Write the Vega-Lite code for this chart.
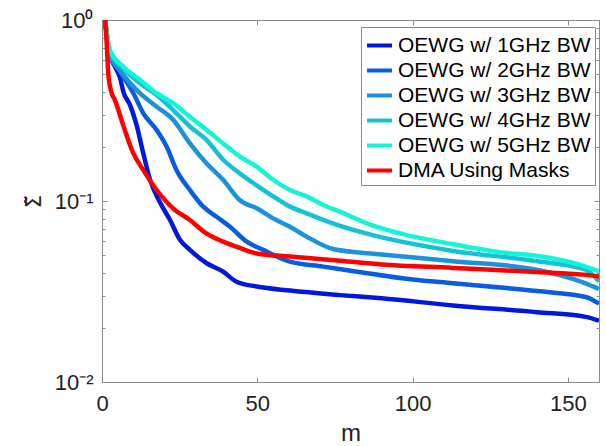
{
"$schema": "https://vega.github.io/schema/vega-lite/v6.json",
"width": 497, "height": 362,
"autosize": "none",
"padding": {"left": 102, "top": 20, "right": 7, "bottom": 64},
"background": "white",
"config": {"view": {"stroke": "#8a8a8a", "strokeWidth": 1}, "font": "Liberation Sans", "axis": {"grid": false}},
"data": {"values": [
{"s":"OEWG w/ 1GHz BW","m":1,"v":1.0},{"s":"OEWG w/ 1GHz BW","m":2.6,"v":0.63},{"s":"OEWG w/ 1GHz BW","m":4,"v":0.56},{"s":"OEWG w/ 1GHz BW","m":5.8,"v":0.48},{"s":"OEWG w/ 1GHz BW","m":6.9,"v":0.40},{"s":"OEWG w/ 1GHz BW","m":9,"v":0.34},{"s":"OEWG w/ 1GHz BW","m":11.2,"v":0.26},{"s":"OEWG w/ 1GHz BW","m":13.3,"v":0.183},{"s":"OEWG w/ 1GHz BW","m":15.4,"v":0.132},{"s":"OEWG w/ 1GHz BW","m":18.7,"v":0.098},{"s":"OEWG w/ 1GHz BW","m":21.9,"v":0.0785},{"s":"OEWG w/ 1GHz BW","m":25.1,"v":0.061},{"s":"OEWG w/ 1GHz BW","m":28.3,"v":0.0537},{"s":"OEWG w/ 1GHz BW","m":33.7,"v":0.0453},{"s":"OEWG w/ 1GHz BW","m":39,"v":0.0407},{"s":"OEWG w/ 1GHz BW","m":43.3,"v":0.0358},{"s":"OEWG w/ 1GHz BW","m":49.8,"v":0.0337},{"s":"OEWG w/ 1GHz BW","m":60.5,"v":0.032},{"s":"OEWG w/ 1GHz BW","m":76.6,"v":0.0302},{"s":"OEWG w/ 1GHz BW","m":90,"v":0.029},{"s":"OEWG w/ 1GHz BW","m":113,"v":0.0265},{"s":"OEWG w/ 1GHz BW","m":140,"v":0.0243},{"s":"OEWG w/ 1GHz BW","m":155.7,"v":0.0229},{"s":"OEWG w/ 1GHz BW","m":160,"v":0.0218},
{"s":"OEWG w/ 2GHz BW","m":1,"v":1.0},{"s":"OEWG w/ 2GHz BW","m":2.6,"v":0.63},{"s":"OEWG w/ 2GHz BW","m":4.5,"v":0.56},{"s":"OEWG w/ 2GHz BW","m":6.9,"v":0.486},{"s":"OEWG w/ 2GHz BW","m":10.1,"v":0.394},{"s":"OEWG w/ 2GHz BW","m":13.3,"v":0.305},{"s":"OEWG w/ 2GHz BW","m":17.6,"v":0.247},{"s":"OEWG w/ 2GHz BW","m":20.8,"v":0.2},{"s":"OEWG w/ 2GHz BW","m":24,"v":0.148},{"s":"OEWG w/ 2GHz BW","m":28.3,"v":0.115},{"s":"OEWG w/ 2GHz BW","m":32.6,"v":0.093},{"s":"OEWG w/ 2GHz BW","m":36.9,"v":0.0818},{"s":"OEWG w/ 2GHz BW","m":41.2,"v":0.0721},{"s":"OEWG w/ 2GHz BW","m":46.6,"v":0.0596},{"s":"OEWG w/ 2GHz BW","m":51.9,"v":0.0537},{"s":"OEWG w/ 2GHz BW","m":60.5,"v":0.0462},{"s":"OEWG w/ 2GHz BW","m":71.2,"v":0.0434},{"s":"OEWG w/ 2GHz BW","m":80,"v":0.0412},{"s":"OEWG w/ 2GHz BW","m":100,"v":0.0368},{"s":"OEWG w/ 2GHz BW","m":113,"v":0.0351},{"s":"OEWG w/ 2GHz BW","m":140,"v":0.0318},{"s":"OEWG w/ 2GHz BW","m":155.7,"v":0.0295},{"s":"OEWG w/ 2GHz BW","m":160,"v":0.0271},
{"s":"OEWG w/ 3GHz BW","m":1,"v":1.0},{"s":"OEWG w/ 3GHz BW","m":2.6,"v":0.64},{"s":"OEWG w/ 3GHz BW","m":6,"v":0.52},{"s":"OEWG w/ 3GHz BW","m":9,"v":0.45},{"s":"OEWG w/ 3GHz BW","m":12.2,"v":0.394},{"s":"OEWG w/ 3GHz BW","m":17.6,"v":0.332},{"s":"OEWG w/ 3GHz BW","m":22.9,"v":0.281},{"s":"OEWG w/ 3GHz BW","m":28.3,"v":0.208},{"s":"OEWG w/ 3GHz BW","m":33.7,"v":0.161},{"s":"OEWG w/ 3GHz BW","m":39,"v":0.131},{"s":"OEWG w/ 3GHz BW","m":44.4,"v":0.101},{"s":"OEWG w/ 3GHz BW","m":49.8,"v":0.0912},{"s":"OEWG w/ 3GHz BW","m":55.1,"v":0.0802},{"s":"OEWG w/ 3GHz BW","m":60.5,"v":0.0721},{"s":"OEWG w/ 3GHz BW","m":65.9,"v":0.0635},{"s":"OEWG w/ 3GHz BW","m":74.7,"v":0.0541},{"s":"OEWG w/ 3GHz BW","m":90,"v":0.0507},{"s":"OEWG w/ 3GHz BW","m":113,"v":0.0465},{"s":"OEWG w/ 3GHz BW","m":140,"v":0.0417},{"s":"OEWG w/ 3GHz BW","m":155.7,"v":0.0351},{"s":"OEWG w/ 3GHz BW","m":160,"v":0.0327},
{"s":"OEWG w/ 4GHz BW","m":1,"v":1.0},{"s":"OEWG w/ 4GHz BW","m":2.6,"v":0.66},{"s":"OEWG w/ 4GHz BW","m":6.9,"v":0.54},{"s":"OEWG w/ 4GHz BW","m":12.2,"v":0.447},{"s":"OEWG w/ 4GHz BW","m":17.6,"v":0.385},{"s":"OEWG w/ 4GHz BW","m":22.9,"v":0.318},{"s":"OEWG w/ 4GHz BW","m":28.3,"v":0.258},{"s":"OEWG w/ 4GHz BW","m":33.7,"v":0.217},{"s":"OEWG w/ 4GHz BW","m":39,"v":0.169},{"s":"OEWG w/ 4GHz BW","m":44.4,"v":0.142},{"s":"OEWG w/ 4GHz BW","m":49.8,"v":0.122},{"s":"OEWG w/ 4GHz BW","m":55.1,"v":0.106},{"s":"OEWG w/ 4GHz BW","m":60.5,"v":0.0931},{"s":"OEWG w/ 4GHz BW","m":65.9,"v":0.0855},{"s":"OEWG w/ 4GHz BW","m":74.7,"v":0.0748},{"s":"OEWG w/ 4GHz BW","m":85.6,"v":0.0658},{"s":"OEWG w/ 4GHz BW","m":113,"v":0.053},{"s":"OEWG w/ 4GHz BW","m":140.3,"v":0.0465},{"s":"OEWG w/ 4GHz BW","m":155.7,"v":0.0417},{"s":"OEWG w/ 4GHz BW","m":160,"v":0.0359},
{"s":"OEWG w/ 5GHz BW","m":1,"v":1.0},{"s":"OEWG w/ 5GHz BW","m":2.6,"v":0.68},{"s":"OEWG w/ 5GHz BW","m":6.9,"v":0.552},{"s":"OEWG w/ 5GHz BW","m":12.2,"v":0.467},{"s":"OEWG w/ 5GHz BW","m":17.6,"v":0.394},{"s":"OEWG w/ 5GHz BW","m":22.9,"v":0.347},{"s":"OEWG w/ 5GHz BW","m":28.3,"v":0.292},{"s":"OEWG w/ 5GHz BW","m":33.7,"v":0.247},{"s":"OEWG w/ 5GHz BW","m":39,"v":0.208},{"s":"OEWG w/ 5GHz BW","m":44.4,"v":0.176},{"s":"OEWG w/ 5GHz BW","m":49.8,"v":0.155},{"s":"OEWG w/ 5GHz BW","m":55.1,"v":0.131},{"s":"OEWG w/ 5GHz BW","m":60.5,"v":0.115},{"s":"OEWG w/ 5GHz BW","m":65.9,"v":0.106},{"s":"OEWG w/ 5GHz BW","m":71.2,"v":0.0951},{"s":"OEWG w/ 5GHz BW","m":76.6,"v":0.0873},{"s":"OEWG w/ 5GHz BW","m":85.6,"v":0.0748},{"s":"OEWG w/ 5GHz BW","m":96.6,"v":0.0658},{"s":"OEWG w/ 5GHz BW","m":113,"v":0.0577},{"s":"OEWG w/ 5GHz BW","m":129.4,"v":0.0518},{"s":"OEWG w/ 5GHz BW","m":140.3,"v":0.0497},{"s":"OEWG w/ 5GHz BW","m":153.5,"v":0.0446},{"s":"OEWG w/ 5GHz BW","m":160,"v":0.0408},
{"s":"DMA Using Masks","m":1,"v":1.0},{"s":"DMA Using Masks","m":1.5,"v":0.75},{"s":"DMA Using Masks","m":2,"v":0.51},{"s":"DMA Using Masks","m":3,"v":0.4},{"s":"DMA Using Masks","m":4.2,"v":0.36},{"s":"DMA Using Masks","m":6.9,"v":0.26},{"s":"DMA Using Masks","m":10,"v":0.185},{"s":"DMA Using Masks","m":13.3,"v":0.148},{"s":"DMA Using Masks","m":17.6,"v":0.115},{"s":"DMA Using Masks","m":22.9,"v":0.091},{"s":"DMA Using Masks","m":28.3,"v":0.0785},{"s":"DMA Using Masks","m":33.7,"v":0.066},{"s":"DMA Using Masks","m":39,"v":0.0596},{"s":"DMA Using Masks","m":44.4,"v":0.055},{"s":"DMA Using Masks","m":49.8,"v":0.0513},{"s":"DMA Using Masks","m":60.5,"v":0.0493},{"s":"DMA Using Masks","m":76.6,"v":0.0468},{"s":"DMA Using Masks","m":90,"v":0.0446},{"s":"DMA Using Masks","m":113,"v":0.0427},{"s":"DMA Using Masks","m":140,"v":0.0405},{"s":"DMA Using Masks","m":155,"v":0.0392},{"s":"DMA Using Masks","m":160,"v":0.0383}
]},
"layer": [
{
"mark": {"type": "line", "strokeWidth": 4.5, "strokeJoin": "round", "interpolate": "monotone", "clip": true},
"encoding": {
"x": {"field": "m", "type": "quantitative", "scale": {"domain": [0, 160], "nice": false, "zero": false},
 "axis": {"orient": "bottom", "values": [0, 50, 100, 150], "tickSize": -5, "tickColor": "#8a8a8a", "domainColor": "#8a8a8a", "labelFontSize": 22, "labelColor": "#222222", "labelPadding": 16, "labelFlush": false, "labelOverlap": false, "title": "m", "titleFontSize": 24, "titleFontWeight": "normal", "titleColor": "#222222", "titleY": 58, "titleBaseline": "alphabetic"}},
"y": {"field": "v", "type": "quantitative", "scale": {"type": "log", "domain": [0.01, 1], "nice": false},
 "axis": {"orient": "left", "values": [0.01,0.02,0.03,0.04,0.05,0.06,0.07,0.08,0.09,0.1,0.2,0.3,0.4,0.5,0.6,0.7,0.8,0.9,1],
  "labelExpr": "datum.value == 1 ? '10⁰' : datum.value == 0.1 ? '10⁻¹' : datum.value == 0.01 ? '10⁻²' : ''",
  "tickSize": {"condition": {"test": "datum.value == 1 || datum.value == 0.1 || datum.value == 0.01", "value": -5}, "value": -3},
  "tickColor": "#8a8a8a", "domainColor": "#8a8a8a", "labelFontSize": 22, "labelColor": "#222222", "labelPadding": 14, "labelOverlap": false, "labelFlush": false,
  "title": "Σ̃", "titleFont": "DejaVu Sans", "titleFontSize": 21, "titleFontWeight": "normal", "titleColor": "#222222", "titleX": -62, "titleY": 181, "titleAngle": 270, "titleBaseline": "alphabetic"}},
"color": {"field": "s", "type": "nominal",
 "scale": {"domain": ["OEWG w/ 1GHz BW", "OEWG w/ 2GHz BW", "OEWG w/ 3GHz BW", "OEWG w/ 4GHz BW", "OEWG w/ 5GHz BW", "DMA Using Masks"],
  "range": ["#0018dc", "#0a5ce0", "#1a92dc", "#14c2d8", "#12f5d6", "#ff0000"]},
 "sort": ["OEWG w/ 1GHz BW", "OEWG w/ 2GHz BW", "OEWG w/ 3GHz BW", "OEWG w/ 4GHz BW", "OEWG w/ 5GHz BW", "DMA Using Masks"],
 "legend": {"title": null, "orient": "none", "legendX": 259, "legendY": 7, "direction": "vertical", "strokeColor": "#8a8a8a", "fillColor": "white", "padding": 4, "symbolType": "stroke", "symbolSize": 625, "symbolStrokeWidth": 4, "labelFontSize": 21, "labelColor": "#000000", "labelOffset": 4, "rowPadding": 0, "labelLimit": 300, "cornerRadius": 0}}
}
},
{
"mark": {"type": "point", "opacity": 0},
"encoding": {
"x": {"field": "m", "type": "quantitative", "axis": {"orient": "top", "values": [0, 50, 100, 150], "tickSize": -5, "tickColor": "#8a8a8a", "domainColor": "#8a8a8a", "labels": false, "title": null}},
"y": {"field": "v", "type": "quantitative", "axis": {"orient": "right", "values": [0.01,0.02,0.03,0.04,0.05,0.06,0.07,0.08,0.09,0.1,0.2,0.3,0.4,0.5,0.6,0.7,0.8,0.9,1],
 "tickSize": {"condition": {"test": "datum.value == 1 || datum.value == 0.1 || datum.value == 0.01", "value": -5}, "value": -3},
 "tickColor": "#8a8a8a", "domainColor": "#8a8a8a", "labels": false, "title": null}}
}
}
],
"resolve": {"axis": {"x": "independent", "y": "independent"}}
}
